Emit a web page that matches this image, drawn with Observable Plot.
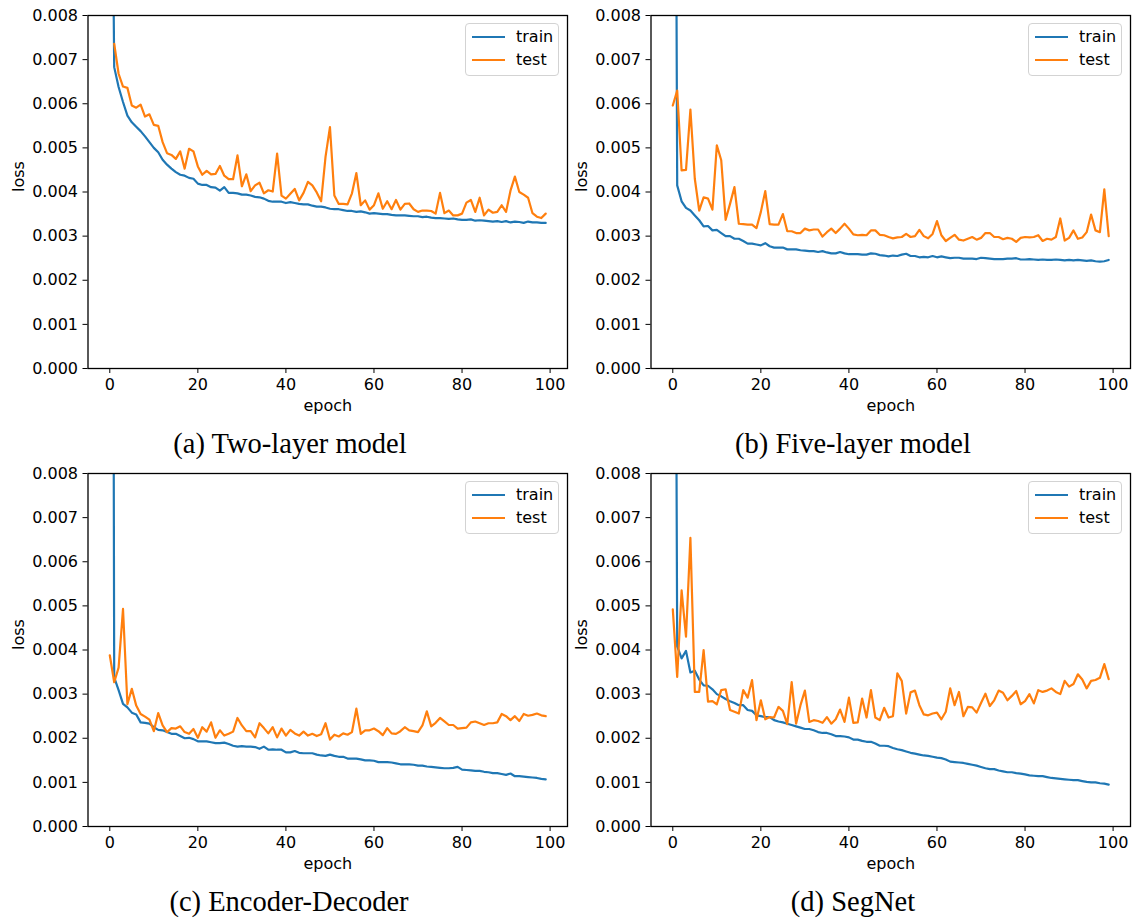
<!DOCTYPE html>
<html><head><meta charset="utf-8">
<script src="https://cdn.jsdelivr.net/npm/d3@7"></script>
<script src="https://cdn.jsdelivr.net/npm/@observablehq/plot@0.6"></script>
<style>
body{margin:0;background:#fff;}
#fig{position:relative;width:1134px;height:921px;background:#fff;overflow:hidden;font-family:"DejaVu Sans",sans-serif;}
.panel{position:absolute;}
.caption{position:absolute;font-family:"Liberation Serif","Times New Roman",serif;font-size:28.5px;line-height:28.5px;text-align:center;width:500px;white-space:nowrap;color:#000;}
.legend{position:absolute;width:94px;height:53px;box-sizing:border-box;border:1px solid #d3d3d3;border-radius:4px;background:rgba(255,255,255,0.8);}
.legend .ln{position:absolute;left:6px;width:33px;height:2px;}
.legend .tx{position:absolute;left:50px;font-family:"DejaVu Sans",sans-serif;font-size:16px;line-height:16px;color:#000;}
</style></head><body><div id="fig"></div>
<script>
// ---------- data ----------
const seriesNames = ["train", "test"];
const seriesColors = ["#1f77b4", "#ff7f0e"];
const xTicks = [0, 20, 40, 60, 80, 100];
const yTicks = [0, 0.001, 0.002, 0.003, 0.004, 0.005, 0.006, 0.007, 0.008];
const captions = ["(a) Two-layer model", "(b) Five-layer model", "(c) Encoder-Decoder", "(d) SegNet"];

const twoLayerTrain = [0.018,0.00683,0.00638,0.00604,0.00573,0.00558,0.00548,0.00538,0.00526,0.00513,
0.00500,0.00490,0.00473,0.00462,0.00453,0.00445,0.00439,0.00437,0.00432,0.00430,
0.00419,0.00416,0.00416,0.00411,0.00410,0.00403,0.00411,0.00398,0.00398,0.00397,
0.00394,0.00394,0.00392,0.00389,0.00388,0.00385,0.00380,0.00378,0.00378,0.00378,
0.00375,0.00377,0.00375,0.00373,0.00372,0.00372,0.00369,0.00367,0.00367,0.00365,
0.00362,0.00361,0.00361,0.00359,0.00357,0.00357,0.00355,0.00356,0.00354,0.00351,
0.00352,0.00351,0.00350,0.00350,0.00348,0.00347,0.00347,0.00347,0.00346,0.00345,
0.00345,0.00343,0.00344,0.00342,0.00341,0.00341,0.00340,0.00339,0.00340,0.00338,
0.00337,0.00337,0.00338,0.00335,0.00336,0.00335,0.00334,0.00333,0.00334,0.00332,
0.00334,0.00331,0.00333,0.00332,0.00330,0.00333,0.00331,0.00331,0.00330,0.00330];
const twoLayerTest = [null,0.00736,0.00668,0.00639,0.00636,0.00596,0.00591,0.00598,0.00571,0.00576,
0.00552,0.00550,0.00513,0.00488,0.00484,0.00475,0.00492,0.00453,0.00498,0.00492,
0.00458,0.00439,0.00448,0.00440,0.00441,0.00459,0.00437,0.00429,0.00429,0.00483,
0.00413,0.00440,0.00402,0.00415,0.00421,0.00397,0.00404,0.00401,0.00487,0.00392,
0.00385,0.00396,0.00407,0.00381,0.00398,0.00423,0.00415,0.00399,0.00379,0.00480,
0.00547,0.00392,0.00373,0.00373,0.00372,0.00397,0.00443,0.00370,0.00381,0.00360,
0.00370,0.00397,0.00362,0.00379,0.00361,0.00382,0.00360,0.00373,0.00374,0.00361,
0.00355,0.00358,0.00358,0.00357,0.00351,0.00398,0.00352,0.00358,0.00347,0.00347,
0.00351,0.00376,0.00382,0.00355,0.00387,0.00347,0.00360,0.00353,0.00355,0.00370,
0.00355,0.00403,0.00435,0.00400,0.00394,0.00387,0.00352,0.00344,0.00341,0.00351];

const fiveLayerTrain = [0.03,0.00415,0.00379,0.00364,0.00358,0.00347,0.00336,0.00322,0.00323,0.00313,
0.00314,0.00307,0.00300,0.00300,0.00294,0.00294,0.00289,0.00283,0.00283,0.00281,
0.00279,0.00284,0.00277,0.00274,0.00274,0.00274,0.00270,0.00270,0.00270,0.00268,
0.00267,0.00266,0.00266,0.00264,0.00266,0.00263,0.00261,0.00261,0.00264,0.00261,
0.00259,0.00259,0.00259,0.00258,0.00258,0.00261,0.00260,0.00257,0.00256,0.00254,
0.00256,0.00255,0.00258,0.00260,0.00255,0.00255,0.00252,0.00253,0.00252,0.00255,
0.00252,0.00254,0.00252,0.00250,0.00251,0.00251,0.00249,0.00249,0.00249,0.00248,
0.00251,0.00250,0.00249,0.00248,0.00248,0.00248,0.00249,0.00249,0.00250,0.00247,
0.00247,0.00248,0.00247,0.00246,0.00247,0.00246,0.00246,0.00247,0.00246,0.00245,
0.00246,0.00245,0.00246,0.00245,0.00244,0.00245,0.00243,0.00242,0.00243,0.00246];
const fiveLayerTest = [0.00596,0.00630,0.00449,0.00450,0.00587,0.00430,0.00358,0.00388,0.00385,0.00360,
0.00506,0.00472,0.00337,0.00373,0.00411,0.00328,0.00327,0.00326,0.00326,0.00318,
0.00355,0.00402,0.00327,0.00326,0.00326,0.00350,0.00311,0.00311,0.00307,0.00307,
0.00317,0.00313,0.00315,0.00315,0.00299,0.00309,0.00317,0.00307,0.00317,0.00328,
0.00317,0.00304,0.00302,0.00303,0.00302,0.00313,0.00313,0.00303,0.00302,0.00298,
0.00295,0.00297,0.00298,0.00305,0.00298,0.00300,0.00314,0.00300,0.00295,0.00305,
0.00334,0.00302,0.00289,0.00296,0.00303,0.00292,0.00290,0.00294,0.00298,0.00292,
0.00296,0.00307,0.00307,0.00298,0.00298,0.00293,0.00296,0.00294,0.00287,0.00296,
0.00298,0.00297,0.00298,0.00302,0.00289,0.00294,0.00292,0.00298,0.00340,0.00290,
0.00296,0.00313,0.00294,0.00297,0.00309,0.00349,0.00313,0.00309,0.00406,0.00300];

const encDecTrain = [0.05,0.00338,0.00309,0.00278,0.00270,0.00258,0.00254,0.00236,0.00235,0.00233,
0.00225,0.00219,0.00218,0.00214,0.00210,0.00210,0.00205,0.00200,0.00201,0.00198,
0.00193,0.00193,0.00193,0.00191,0.00189,0.00189,0.00190,0.00187,0.00183,0.00181,
0.00182,0.00181,0.00181,0.00180,0.00176,0.00181,0.00174,0.00175,0.00174,0.00174,
0.00168,0.00168,0.00171,0.00167,0.00166,0.00166,0.00166,0.00163,0.00161,0.00160,
0.00163,0.00160,0.00158,0.00158,0.00154,0.00154,0.00154,0.00152,0.00150,0.00150,
0.00149,0.00146,0.00146,0.00146,0.00145,0.00143,0.00141,0.00141,0.00141,0.00140,
0.00138,0.00138,0.00136,0.00135,0.00134,0.00133,0.00132,0.00132,0.00133,0.00135,
0.00129,0.00128,0.00127,0.00126,0.00126,0.00124,0.00123,0.00121,0.00121,0.00119,
0.00117,0.00120,0.00114,0.00114,0.00113,0.00112,0.00111,0.00110,0.00108,0.00107];
const encDecTest = [0.00388,0.00327,0.00360,0.00493,0.00277,0.00312,0.00274,0.00255,0.00249,0.00242,
0.00216,0.00257,0.00229,0.00214,0.00223,0.00222,0.00227,0.00214,0.00210,0.00221,
0.00201,0.00225,0.00215,0.00236,0.00201,0.00218,0.00206,0.00210,0.00215,0.00246,
0.00229,0.00216,0.00216,0.00202,0.00234,0.00223,0.00211,0.00225,0.00202,0.00222,
0.00206,0.00219,0.00211,0.00206,0.00215,0.00206,0.00210,0.00205,0.00209,0.00234,
0.00197,0.00208,0.00204,0.00211,0.00208,0.00214,0.00267,0.00210,0.00218,0.00218,
0.00222,0.00216,0.00207,0.00223,0.00211,0.00210,0.00216,0.00225,0.00218,0.00216,
0.00214,0.00229,0.00261,0.00227,0.00235,0.00246,0.00238,0.00230,0.00230,0.00222,
0.00223,0.00224,0.00236,0.00238,0.00234,0.00230,0.00234,0.00234,0.00236,0.00255,
0.00250,0.00241,0.00250,0.00239,0.00255,0.00251,0.00253,0.00256,0.00252,0.00250];

const segNetTrain = [0.03,0.00408,0.00381,0.00398,0.00349,0.00353,0.00333,0.00320,0.00319,0.00311,
0.00300,0.00295,0.00289,0.00284,0.00280,0.00275,0.00275,0.00264,0.00262,0.00252,
0.00250,0.00248,0.00248,0.00241,0.00238,0.00236,0.00233,0.00230,0.00227,0.00224,
0.00221,0.00221,0.00218,0.00214,0.00212,0.00212,0.00209,0.00205,0.00205,0.00204,
0.00202,0.00197,0.00197,0.00194,0.00192,0.00192,0.00188,0.00183,0.00183,0.00182,
0.00178,0.00175,0.00173,0.00170,0.00167,0.00165,0.00163,0.00161,0.00160,0.00158,
0.00156,0.00155,0.00152,0.00147,0.00146,0.00145,0.00144,0.00142,0.00140,0.00138,
0.00135,0.00132,0.00130,0.00130,0.00127,0.00125,0.00123,0.00123,0.00121,0.00120,
0.00118,0.00116,0.00115,0.00114,0.00114,0.00112,0.00110,0.00109,0.00108,0.00107,
0.00106,0.00105,0.00105,0.00103,0.00101,0.00100,0.00100,0.00098,0.00097,0.00095];
const segNetTest = [0.00492,0.00339,0.00535,0.00430,0.00654,0.00305,0.00305,0.00400,0.00283,0.00284,
0.00277,0.00309,0.00311,0.00264,0.00260,0.00256,0.00309,0.00292,0.00332,0.00241,
0.00286,0.00243,0.00248,0.00247,0.00271,0.00262,0.00232,0.00327,0.00233,0.00275,
0.00308,0.00237,0.00241,0.00239,0.00235,0.00248,0.00233,0.00243,0.00265,0.00237,
0.00292,0.00235,0.00236,0.00290,0.00247,0.00309,0.00247,0.00241,0.00269,0.00247,
0.00250,0.00347,0.00330,0.00256,0.00304,0.00308,0.00275,0.00254,0.00252,0.00256,
0.00258,0.00243,0.00260,0.00313,0.00275,0.00305,0.00250,0.00271,0.00270,0.00258,
0.00280,0.00301,0.00273,0.00286,0.00308,0.00303,0.00286,0.00296,0.00307,0.00277,
0.00284,0.00300,0.00279,0.00309,0.00305,0.00308,0.00313,0.00305,0.00300,0.00330,
0.00317,0.00323,0.00345,0.00333,0.00313,0.00330,0.00332,0.00337,0.00368,0.00334];

// ---------- layout ----------
const fig = document.getElementById("fig");
const panels = [
  {train: twoLayerTrain, test: twoLayerTest, left: 0,   top: 0,   caption: captions[0], capX: 290, capBase: 454},
  {train: fiveLayerTrain, test: fiveLayerTest, left: 563, top: 0, caption: captions[1], capX: 853, capBase: 454},
  {train: encDecTrain, test: encDecTest, left: 0,   top: 458,     caption: captions[2], capX: 289, capBase: 912},
  {train: segNetTrain, test: segNetTest, left: 563, top: 458,     caption: captions[3], capX: 853, capBase: 912}
];
const W = 571, H = 420, ML = 87.5, MR = 4, MT = 15, MB = 52;
const fontStyle = {fontFamily: "DejaVu Sans", fontSize: "16px", background: "transparent", overflow: "visible"};

panels.forEach(p => {
  const toRows = (arr) => arr.map((v, i) => ({epoch: i, loss: v}));
  const rows = [toRows(p.train), toRows(p.test)];
  const chart = Plot.plot({
    width: W, height: H,
    marginLeft: ML, marginRight: MR, marginTop: MT, marginBottom: MB,
    style: fontStyle,
    x: {domain: [-4.95, 103.95]},
    y: {domain: [0, 0.008]},
    marks: [
      Plot.line(rows[0], {x: "epoch", y: "loss", stroke: seriesColors[0], strokeWidth: 2.2, clip: true}),
      Plot.line(rows[1], {x: "epoch", y: "loss", stroke: seriesColors[1], strokeWidth: 2.2, clip: true}),
      Plot.frame({stroke: "#000", strokeWidth: 1.3}),
      Plot.axisX({ticks: xTicks, tickSize: 5, tickPadding: 5, label: null, fontSize: 16, tickFormat: d3.format("d")}),
      Plot.axisY({ticks: yTicks, tickSize: 5, tickPadding: 5, label: null, fontSize: 16, tickFormat: d3.format(".3f")}),
      Plot.text(["epoch"], {frameAnchor: "bottom", dy: 37, text: d => d, lineAnchor: "middle", fontSize: 16}),
      Plot.text(["loss"], {frameAnchor: "left", dx: -69.5, rotate: -90, text: d => d, lineAnchor: "middle", fontSize: 16})
    ]
  });
  chart.classList.add("panel");
  chart.style.left = p.left + "px";
  chart.style.top = p.top + "px";
  fig.appendChild(chart);

  // legend (upper right inside frame)
  const frameRight = p.left + W - MR;
  const frameTop = p.top + MT;
  const lg = document.createElement("div");
  lg.className = "legend";
  lg.style.left = Math.round(frameRight - 8 - 94) + "px";
  lg.style.top = Math.round(frameTop + 8) + "px";
  seriesNames.forEach((name, k) => {
    const ln = document.createElement("div");
    ln.className = "ln";
    ln.style.background = seriesColors[k];
    ln.style.top = (12 + k * 23) + "px";
    lg.appendChild(ln);
    const tx = document.createElement("div");
    tx.className = "tx";
    tx.textContent = name;
    tx.style.top = (5 + k * 23) + "px";
    lg.appendChild(tx);
  });
  fig.appendChild(lg);

  // caption
  const cap = document.createElement("div");
  cap.className = "caption";
  cap.textContent = p.caption;
  cap.style.left = (p.capX - 250) + "px";
  cap.style.top = (p.capBase - 23.9) + "px";
  fig.appendChild(cap);
});
</script></body></html>
